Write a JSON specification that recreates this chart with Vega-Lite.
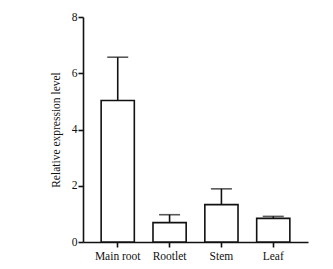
{
  "$schema": "https://vega.github.io/schema/vega-lite/v6.json",
  "autosize": {"type": "none"},
  "padding": {"left": 83, "top": 17, "right": 25, "bottom": 27},
  "width": 225,
  "height": 225,
  "background": "white",
  "config": {
    "font": "Liberation Serif",
    "view": {"stroke": null},
    "axis": {
      "labelFont": "Liberation Serif",
      "titleFont": "Liberation Serif",
      "labelFontSize": 11.5,
      "titleFontSize": 11.5,
      "titleFontWeight": "normal",
      "labelColor": "#111",
      "titleColor": "#111",
      "domainColor": "#111",
      "tickColor": "#111",
      "domainWidth": 1.6,
      "tickWidth": 1.6,
      "tickSize": 5,
      "grid": false
    }
  },
  "data": {
    "values": [
      {"tissue": "Main root", "value": 5.03, "upper": 6.57},
      {"tissue": "Rootlet", "value": 0.69, "upper": 0.97},
      {"tissue": "Stem", "value": 1.33, "upper": 1.89},
      {"tissue": "Leaf", "value": 0.84, "upper": 0.91}
    ]
  },
  "encoding": {
    "x": {
      "field": "tissue",
      "type": "nominal",
      "sort": null,
      "scale": {"paddingInner": 0.36, "paddingOuter": 0.35},
      "axis": {"title": null, "labelAngle": 0, "labelPadding": 3}
    }
  },
  "layer": [
    {
      "mark": {"type": "rule", "stroke": "#111", "strokeWidth": 1.6},
      "encoding": {
        "y": {"field": "value", "type": "quantitative"},
        "y2": {"field": "upper"}
      }
    },
    {
      "mark": {"type": "tick", "color": "#111", "size": 21, "thickness": 1.6, "orient": "horizontal"},
      "encoding": {
        "y": {"field": "upper", "type": "quantitative"}
      }
    },
    {
      "mark": {"type": "bar", "fill": "white", "stroke": "#111", "strokeWidth": 1.6},
      "encoding": {
        "y": {
          "field": "value",
          "type": "quantitative",
          "scale": {"domain": [0, 8], "nice": false},
          "axis": {"title": "Relative expression level", "values": [0, 2, 4, 6, 8], "labelPadding": 1, "titlePadding": 10}
        }
      }
    }
  ]
}
